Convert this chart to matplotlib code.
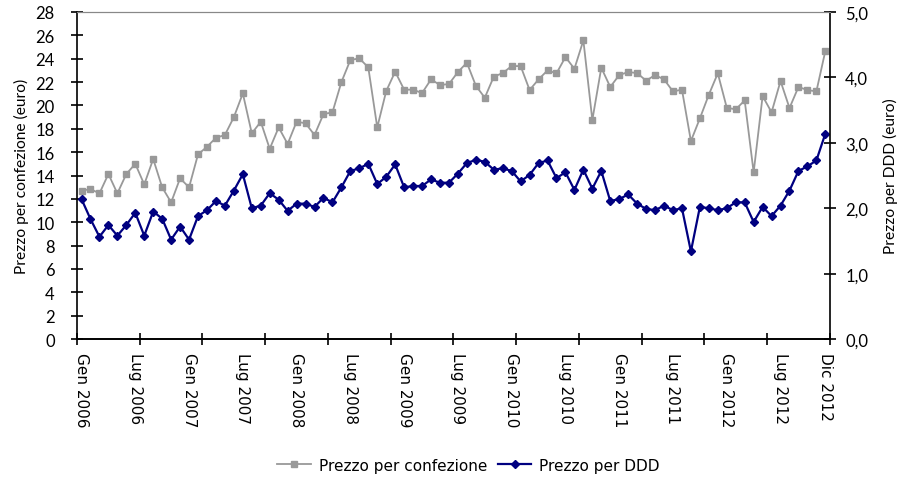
import numpy as np
import matplotlib
matplotlib.use("Agg")
import matplotlib.pyplot as plt
from matplotlib.ticker import FuncFormatter

plt.rcParams['font.family'] = ['Lato', 'DejaVu Sans']

# monthly values, Jan 2006 - Dec 2012
prezzo_confezione = [
    12.70, 12.84, 12.47, 14.13, 12.47, 14.13, 15.00, 13.24, 15.41, 12.99,
    11.70, 13.76, 12.99, 15.81, 16.46, 17.23, 17.47, 19.00, 21.03, 17.61,
    18.60, 16.29, 18.12, 16.70, 18.61, 18.47, 17.47, 19.26, 19.41, 22.00,
    23.89, 24.03, 23.26, 18.12, 21.23, 22.89, 21.35, 21.35, 21.06, 22.23,
    21.75, 21.83, 22.86, 23.66, 21.69, 20.66, 22.46, 22.77, 23.37, 23.37,
    21.32, 22.23, 23.00, 22.75, 24.14, 23.14, 25.57, 18.75, 23.23, 21.58,
    22.60, 22.86, 22.77, 22.12, 22.60, 22.23, 21.20, 21.35, 16.95, 18.89,
    20.92, 22.75, 19.81, 19.66, 20.43, 14.27, 20.80, 19.41, 22.09, 19.78,
    21.58, 21.32, 21.20, 24.66,
]
prezzo_ddd = [
    2.14, 1.835, 1.564, 1.743, 1.58, 1.743, 1.93, 1.58, 1.95, 1.84,
    1.52, 1.72, 1.52, 1.88, 1.97, 2.11, 2.04, 2.27, 2.52, 2.00,
    2.04, 2.23, 2.13, 1.96, 2.07, 2.07, 2.02, 2.16, 2.09, 2.32,
    2.57, 2.61, 2.68, 2.37, 2.48, 2.67, 2.32, 2.34, 2.34, 2.44,
    2.39, 2.39, 2.53, 2.69, 2.74, 2.71, 2.59, 2.61, 2.57, 2.41,
    2.51, 2.69, 2.73, 2.46, 2.55, 2.28, 2.59, 2.30, 2.57, 2.11,
    2.14, 2.21, 2.07, 1.99, 1.97, 2.04, 1.97, 2.00, 1.34, 2.02,
    2.00, 1.97, 2.00, 2.09, 2.09, 1.79, 2.02, 1.88, 2.04, 2.27,
    2.57, 2.64, 2.73, 3.14,
]
tick_labels = ['Gen 2006', 'Lug 2006', 'Gen 2007', 'Lug 2007', 'Gen 2008',
               'Lug 2008', 'Gen 2009', 'Lug 2009', 'Gen 2010', 'Lug 2010',
               'Gen 2011', 'Lug 2011', 'Gen 2012', 'Lug 2012', 'Dic 2012']
label_pos = list(range(0, 84, 6)) + [83]

x = np.arange(len(prezzo_confezione))

fig = plt.figure(figsize=(9.01, 4.81), dpi=100)
ax = fig.add_axes([0.0855, 0.293, 0.8355, 0.68])
ax2 = ax.twinx()

l1, = ax.plot(x, prezzo_confezione, color='#999999', lw=1.3, marker='s',
              ms=4.5, mec='#999999', label='Prezzo per confezione')
l2, = ax2.plot(x, prezzo_ddd, color='#000080', lw=1.6, marker='D',
               ms=4.5, mec='#000080', label='Prezzo per DDD')

ax.set_xlim(-0.5, len(x) - 0.5)
ax.set_xticks(label_pos)
ax.set_xticklabels(tick_labels, rotation=-90, va='top', ha='center',
                   fontsize=11, family='DejaVu Sans')
ax.set_xticks(np.linspace(-0.5, len(x) - 0.5, 13), minor=True)
ax.tick_params(axis='x', which='major', length=0, pad=9)
ax.tick_params(axis='x', which='minor', direction='inout', length=8, width=1.2)

ax.set_ylim(0, 28)
ax.set_yticks(np.arange(0, 29, 2))
ax2.set_ylim(0, 5)
ax2.set_yticks(np.arange(0, 5.1, 1))
ax2.yaxis.set_major_formatter(FuncFormatter(lambda v, p: f'{v:.1f}'.replace('.', ',')))

ax.tick_params(axis='y', direction='inout', length=8, width=1.2, labelsize=12, pad=12)
ax2.tick_params(axis='y', direction='inout', length=8, width=1.2, labelsize=12, pad=7)

for a in (ax, ax2):
    a.spines['top'].set_color('#888888')
    for s in ('left', 'right', 'bottom'):
        a.spines[s].set_linewidth(1.2)
ax2.spines['left'].set_visible(False)
ax.spines['right'].set_visible(False)

ax.set_ylabel('Prezzo per confezione (euro)', fontsize=11.2, labelpad=5)
ax2.set_ylabel('Prezzo per DDD (euro)', fontsize=11.2, labelpad=11)

fig.legend(handles=[l1, l2], loc='center', bbox_to_anchor=(0.52, 0.031), ncol=2,
           frameon=False, prop={'family': 'DejaVu Sans', 'size': 11},
           handlelength=2.2, columnspacing=0.7, handletextpad=0.5)

fig.savefig('out.png', dpi=100)
